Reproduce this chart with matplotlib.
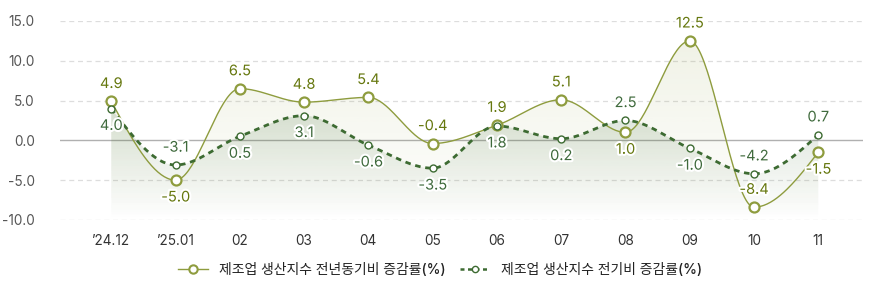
import numpy as np
import matplotlib
matplotlib.use('Agg')
import matplotlib.pyplot as plt
import matplotlib.patheffects as pe
from matplotlib.lines import Line2D
from matplotlib.colors import to_rgb

plt.rcParams['font.family'] = ['Inter', 'Noto Sans CJK KR', 'DejaVu Sans']

# data
months = ["’24.12", "’25.01", "02", "03", "04", "05", "06", "07", "08", "09", "10", "11"]
yoy = [4.9, -5.0, 6.5, 4.8, 5.4, -0.4, 1.9, 5.1, 1.0, 12.5, -8.4, -1.5]
mom = [4.0, -3.1, 0.5, 3.1, -0.6, -3.5, 1.8, 0.2, 2.5, -1.0, -4.2, 0.7]
yoy_name = "제조업 생산지수 전년동기비 증감률(%)"
mom_name = "제조업 생산지수 전기비 증감률(%)"
# label above (+1) or below (-1) the point
yoy_pos = [1, -1, 1, 1, 1, 1, 1, 1, -1, 1, 1, -1]
mom_pos = [-1, 1, -1, -1, -1, -1, -1, -1, 1, -1, 1, 1]

OLIVE = '#8e9c3e'
OLIVE_TXT = '#66780f'
GREEN = '#3d6b32'
GREEN_TXT = '#3f6a3c'


def monotone(x, y, n=40):
    # d3 curveMonotoneX style interpolation
    x = np.asarray(x, float)
    y = np.asarray(y, float)
    h = np.diff(x)
    s = np.diff(y) / h
    t = np.zeros_like(y)
    sg = lambda v: -1.0 if v < 0 else 1.0
    for i in range(1, len(y) - 1):
        s0, s1 = s[i - 1], s[i]
        p = (s0 * h[i] + s1 * h[i - 1]) / (h[i - 1] + h[i])
        t[i] = (sg(s0) + sg(s1)) * min(abs(s0), abs(s1), 0.5 * abs(p))
    t[0] = (3 * s[0] - t[1]) / 2
    t[-1] = (3 * s[-1] - t[-2]) / 2
    xs, ys = [], []
    for i in range(len(y) - 1):
        u = np.linspace(0, 1, n, endpoint=(i == len(y) - 2))
        h00 = 2 * u**3 - 3 * u**2 + 1
        h10 = u**3 - 2 * u**2 + u
        h01 = -2 * u**3 + 3 * u**2
        h11 = u**3 - u**2
        xs.append(x[i] + u * h[i])
        ys.append(h00 * y[i] + h10 * h[i] * t[i] + h01 * y[i + 1] + h11 * h[i] * t[i + 1])
    return np.concatenate(xs), np.concatenate(ys)


def gradient_fill(ax, xs, ys, color, a_top, bottom=-10):
    top = ys.max()
    poly = ax.fill_between(xs, ys, bottom, color='none', lw=0)
    grad = np.linspace(0, 1, 256)[:, None]  # 0 at bottom, 1 at top
    rgba = np.zeros((256, 1, 4))
    rgba[..., :3] = to_rgb(color)
    rgba[..., 3] = a_top * grad
    im = ax.imshow(rgba, extent=[xs.min(), xs.max(), bottom, top], origin='lower',
                   aspect='auto', zorder=1, interpolation='bilinear')
    im.set_clip_path(poly.get_paths()[0], transform=ax.transData)


fig = plt.figure(figsize=(8.8, 3.0), dpi=100)
ax = fig.add_axes([0.068, 0.267, 0.913, 0.663])

x = np.arange(len(months))
xs1, ys1 = monotone(x, yoy)
xs2, ys2 = monotone(x, mom)

gradient_fill(ax, xs1, ys1, OLIVE, 0.13)
gradient_fill(ax, xs2, ys2, GREEN, 0.18)

for yv in [15, 10, 5, -5, -10]:
    ax.axhline(yv, color='#dddddd', lw=0.9, ls=(0, (4, 3)), zorder=0)
ax.axhline(0, color='#b0b0b0', lw=1.0, zorder=0.5)

ax.plot(xs1, ys1, color=OLIVE, lw=1.0, zorder=3)
ax.plot(x, yoy, ls='none', marker='o', ms=7.2, mfc='white', mec=OLIVE, mew=1.6, zorder=5)
ax.plot(xs2, ys2, color=GREEN, lw=2.0, ls=(0, (2.0, 1.7)), zorder=4)
ax.plot(x, mom, ls='none', marker='o', ms=5.0, mfc='white', mec=GREEN, mew=1.0, zorder=6)

halo = [pe.withStroke(linewidth=3, foreground='white')]
for xi, v, p in zip(x, yoy, yoy_pos):
    ax.annotate(f"{v:.1f}", (xi, v), xytext=(0, 12.5 * p), textcoords='offset points',
                ha='center', va='center', fontsize=10.5, color=OLIVE_TXT,
                path_effects=halo, zorder=7)
for xi, v, p in zip(x, mom, mom_pos):
    ax.annotate(f"{v:.1f}", (xi, v), xytext=(0, 12.5 * p), textcoords='offset points',
                ha='center', va='center', fontsize=10.5, color=GREEN_TXT,
                path_effects=halo, zorder=7)

ax.set_xlim(-0.8, 11.7)
ax.set_ylim(-10, 15)
ax.set_yticks([15, 10, 5, 0, -5, -10])
ax.set_yticklabels([f"{v:.1f}" for v in [15, 10, 5, 0, -5, -10]], color='#555555', fontsize=9.8)
ax.set_xticks(x)
ax.set_xticklabels(months, color='#333333', fontsize=9.8)
ax.tick_params(length=0)
ax.tick_params(axis='x', pad=10)
ax.tick_params(axis='y', pad=18)
for sp in ax.spines.values():
    sp.set_visible(False)

handles = [
    Line2D([], [], color=OLIVE, lw=1.0, marker='o', ms=6, mfc='white', mec=OLIVE, mew=1.5),
    Line2D([], [], color=GREEN, lw=1.8, ls=(0, (1.6, 1.4)), marker='o', ms=4.5, mfc='white', mec=GREEN, mew=1.0),
]
fig.legend(handles, [yoy_name, mom_name], loc='center', bbox_to_anchor=(0.5, 0.1), ncol=2,
           frameon=False, handlelength=2.2, columnspacing=1.0, handletextpad=0.8,
           labelcolor='#222222', prop={'size': 10, 'weight': 'medium'})

fig.savefig('out.png', dpi=100, facecolor='white')
